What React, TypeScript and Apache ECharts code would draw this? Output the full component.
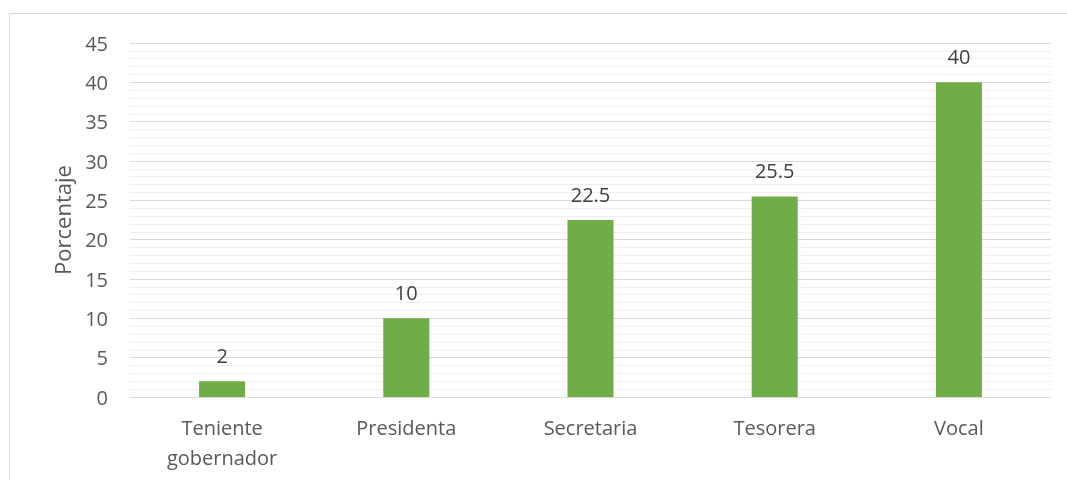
import React, { useEffect, useRef } from "react";
import * as echarts from "echarts";

const categories = ["Teniente\ngobernador", "Presidenta", "Secretaria", "Tesorera", "Vocal"];
const values = [2, 10, 22.5, 25.5, 40];
const yTicks = { min: 0, max: 45, interval: 5 };
const yName = "Porcentaje";

const FONT = "'Open Sans', 'Noto Sans', sans-serif";

export default function App() {
  const ref = useRef<HTMLDivElement>(null);
  useEffect(() => {
    if (!ref.current) return;
    const chart = echarts.init(ref.current, null, { renderer: "svg" });
    chart.setOption({
      animation: false,
      textStyle: { fontFamily: FONT },
      graphic: [
        {
          type: "polyline",
          shape: { points: [[9.5, 480], [9.5, 13.5], [1067, 13.5]] },
          style: { fill: "none", stroke: "#d9d9d9", lineWidth: 1 },
          silent: true,
          z: -10,
        },
      ],
      grid: { left: 130, right: 16, top: 43, bottom: 83, containLabel: false },
      xAxis: {
        type: "category",
        data: categories,
        axisLine: { show: true, lineStyle: { color: "#d9d9d9", width: 1 } },
        axisTick: { show: false },
        axisLabel: {
          color: "#595959",
          fontSize: 20,
          fontFamily: FONT,
          margin: 15,
          lineHeight: 30,
          interval: 0,
        },
      },
      yAxis: {
        type: "value",
        min: yTicks.min,
        max: yTicks.max,
        interval: yTicks.interval,
        name: yName,
        nameLocation: "middle",
        nameGap: 57,
        nameRotate: 90,
        nameTextStyle: { color: "#595959", fontSize: 22, fontFamily: FONT },
        axisLine: { show: false },
        axisTick: { show: false },
        axisLabel: { color: "#595959", fontSize: 20, fontFamily: FONT, margin: 22 },
        splitLine: { show: true, lineStyle: { color: "#d9d9d9", width: 1 } },
        minorTick: { show: false, splitNumber: 5 },
        minorSplitLine: { show: true, lineStyle: { color: "#efefef", width: 1 } },
      },
      series: [
        {
          type: "bar",
          data: values,
          barWidth: "25%",
          itemStyle: { color: "#70ad47" },
          label: {
            show: true,
            position: "top",
            distance: 16,
            color: "#404040",
            fontSize: 20,
            fontFamily: FONT,
          },
        },
      ],
    });
    return () => chart.dispose();
  }, []);
  return (
    <div
      ref={ref}
      style={{ position: "fixed", left: 0, top: 0, width: 1067, height: 480 }}
    />
  );
}
